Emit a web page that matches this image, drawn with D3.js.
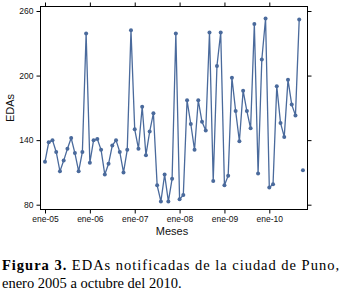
<!DOCTYPE html>
<html>
<head>
<meta charset="utf-8">
<script src="https://cdn.jsdelivr.net/npm/d3@7"></script>
<style>
  body { margin: 0; background: #fff; }
  svg { display: block; }
</style>
</head>
<body>
<div id="graph"></div>
<script>
// EDAs notificadas, ene-2005 .. oct-2010 (one value per month)
var edas = [
  120, 138, 140, 129, 111, 121, 132, 142, 128, 111, 129, 239,
  119, 140, 141, 131, 108, 118, 135, 140, 129, 110, 131, 242,
  150, 132, 171, 126, 148, 165, 98, 83, 108, 83, 104, 239,
  85, 89, 177, 155, 131, 177, 157, 149, 240, 102, 209, 240,
  98, 107, 198, 167, 139, 186, 167, 151, 248, 109, 215, 253,
  96, 99, 190, 156, 143, 196, 173, 163, 252, 112
]
var xTicks = [0, 12, 24, 36, 48, 60]
var xTickLabels = ['ene-05', 'ene-06', 'ene-07', 'ene-08', 'ene-09', 'ene-10']
var yTicks = [80, 140, 200, 260]

var width = 341, height = 295
var blue = '#4a6a9c'
var sans = 'Liberation Sans, Arial, sans-serif'
var serif = 'Liberation Serif, Times New Roman, serif'

var svg = d3.select('#graph').append('svg')
  .attr('width', width).attr('height', height)

var frame = {left: 40.5, right: 307.5, top: 6.5, bottom: 209.5}

var x = d3.scaleLinear().domain([0, 60]).range([45, 269.3])
var y = d3.scaleLinear().domain([80, 260]).range([204.7, 11])

var data = edas.map((v, i) => ({i, v}))

// frame
svg.append('rect')
  .attr('x', frame.left).attr('y', frame.top)
  .attr('width', frame.right - frame.left)
  .attr('height', frame.bottom - frame.top)
  .attr('fill', 'none').attr('stroke', '#000').attr('stroke-width', 1)

// axes: outward ticks on all four sides, labels left and bottom only
var yAxisL = d3.axisLeft(y).tickValues(yTicks).tickSize(4).tickPadding(3).tickSizeOuter(0)
var yAxisR = d3.axisRight(y).tickValues(yTicks).tickSize(4).tickFormat('').tickSizeOuter(0)
var xAxisB = d3.axisBottom(x).tickValues(xTicks).tickSize(4).tickPadding(2).tickSizeOuter(0)
  .tickFormat((d, i) => xTickLabels[i])
var xAxisT = d3.axisTop(x).tickValues(xTicks).tickSize(4).tickFormat('').tickSizeOuter(0)

function styleAxis(g){
  g.select('.domain').remove()
  g.selectAll('line').attr('stroke', '#000')
  g.selectAll('text').attr('font-family', sans).attr('font-size', 8.5).attr('fill', '#111')
}

svg.append('g').attr('transform', `translate(${frame.left},0)`).call(yAxisL).call(styleAxis)
svg.append('g').attr('transform', `translate(${frame.right},0)`).call(yAxisR).call(styleAxis)
svg.append('g').attr('transform', `translate(0,${frame.bottom})`).call(xAxisB).call(styleAxis)
svg.append('g').attr('transform', `translate(0,${frame.top})`).call(xAxisT).call(styleAxis)

// the last month is not joined to the rest of the line
var line = d3.line()
  .x(d => x(d.i))
  .y(d => y(d.v))

svg.append('path')
  .attr('d', line(data.slice(0, data.length - 1)))
  .attr('fill', 'none')
  .attr('stroke', blue)
  .attr('stroke-width', 1.3)

svg.append('g').selectAll('circle')
  .data(data)
  .join('circle')
  .attr('cx', d => x(d.i))
  .attr('cy', d => y(d.v))
  .attr('r', 2)
  .attr('fill', blue)

// axis titles
svg.append('text')
  .attr('transform', `translate(14,${(frame.top + frame.bottom) / 2}) rotate(-90)`)
  .attr('text-anchor', 'middle')
  .attr('font-family', sans).attr('font-size', 11)
  .attr('fill', '#111')
  .text('EDAs')

svg.append('text')
  .attr('x', (frame.left + frame.right) / 2 - 2).attr('y', 235)
  .attr('text-anchor', 'middle')
  .attr('font-family', sans).attr('font-size', 11)
  .attr('fill', '#111')
  .text('Meses')

// caption
var cap1 = svg.append('text')
  .attr('x', 2).attr('y', 270)
  .attr('font-family', serif).attr('font-size', 14.5)
  .attr('fill', '#000')
  .attr('textLength', 337).attr('lengthAdjust', 'spacing')
cap1.append('tspan').attr('font-weight', 'bold').text('Figura 3.')
cap1.append('tspan').text(' EDAs notificadas de la ciudad de Puno,')

svg.append('text')
  .attr('x', 2).attr('y', 288)
  .attr('font-family', serif).attr('font-size', 14.5)
  .attr('fill', '#000')
  .text('enero 2005 a octubre del 2010.')
</script>
</body>
</html>
